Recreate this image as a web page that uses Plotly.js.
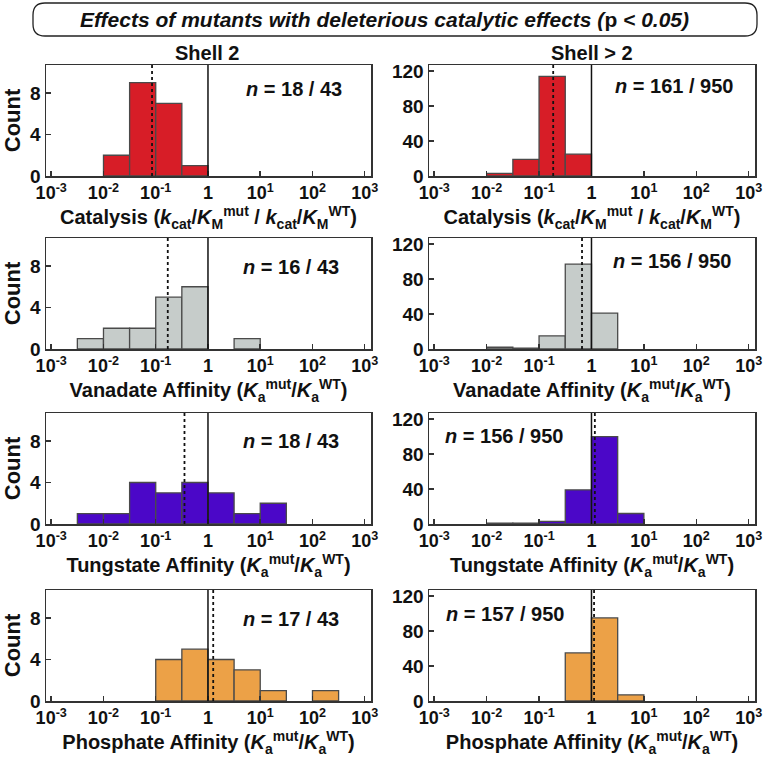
<!DOCTYPE html>
<html><head><meta charset="utf-8">
<script src="https://cdn.plot.ly/plotly-3.0.1.min.js"></script>
<style>html,body{margin:0;padding:0;background:#fff}#chart{width:767px;height:767px}</style>
</head><body><div id="chart"></div>
<script>
// ---- data ----
const binEdgesLog = [-3, -2.5, -2, -1.5, -1, -0.5, 0, 0.5, 1, 1.5, 2, 2.5, 3];
const xTickVals = [-3, -2, -1, 0, 1, 2, 3];
const xTickText = ['10<sup>-3</sup>', '10<sup>-2</sup>', '10<sup>-1</sup>', '1', '10<sup>1</sup>', '10<sup>2</sup>', '10<sup>3</sup>'];
const yTicksShell2 = [0, 4, 8];
const yTicksShellGt2 = [0, 40, 80, 120];

const catalysisShell2   = [0, 0, 2, 9, 7, 1, 0, 0, 0, 0, 0, 0];
const catalysisShellGt2 = [0, 0, 3, 19, 114, 25, 0, 0, 0, 0, 0, 0];
const vanadateShell2    = [0, 1, 2, 2, 5, 6, 0, 1, 0, 0, 0, 0];
const vanadateShellGt2  = [0, 0, 2, 1, 15, 97, 41, 0, 0, 0, 0, 0];
const tungstateShell2   = [0, 1, 1, 4, 3, 4, 3, 1, 2, 0, 0, 0];
const tungstateShellGt2 = [0, 0, 1, 1, 3, 39, 100, 12, 0, 0, 0, 0];
const phosphateShell2   = [0, 0, 0, 0, 4, 5, 4, 3, 1, 0, 1, 0];
const phosphateShellGt2 = [0, 0, 0, 0, 0, 55, 95, 7, 0, 0, 0, 0];

const medianRatios = [0.085, 0.186, 0.17, 0.66, 0.355, 1.16, 1.26, 1.12];
const nLabels = ['18 / 43', '161 / 950', '16 / 43', '156 / 950', '18 / 43', '156 / 950', '17 / 43', '157 / 950'];
const columnTitles = ['Shell 2', 'Shell > 2'];
const xTitles = [
  'Catalysis (<i>k</i><sub>cat</sub>/<i>K</i><sub>M</sub><sup>mut</sup> / <i>k</i><sub>cat</sub>/<i>K</i><sub>M</sub><sup>WT</sup>)',
  'Vanadate Affinity (<i>K</i><sub>a</sub><sup>mut</sup>/<i>K</i><sub>a</sub><sup>WT</sup>)',
  'Tungstate Affinity (<i>K</i><sub>a</sub><sup>mut</sup>/<i>K</i><sub>a</sub><sup>WT</sup>)',
  'Phosphate Affinity (<i>K</i><sub>a</sub><sup>mut</sup>/<i>K</i><sub>a</sub><sup>WT</sup>)'
];
const chartTitle = '<b><i>Effects of mutants with deleterious catalytic effects (</i>p<i> &lt; 0.05)</i></b>';

// ---- styles / layout ----
const series = [catalysisShell2, catalysisShellGt2, vanadateShell2, vanadateShellGt2,
                tungstateShell2, tungstateShellGt2, phosphateShell2, phosphateShellGt2];
const rowColors = ['#d71d27', '#c6ccca', '#4b07c8', '#eca147'];
const W = 767, H = 767;
const colPx = [[46, 371], [429, 755]];
const rowPx = [[65, 176], [238, 349], [413, 524], [590, 701]];
const nPos = [[294, 89], [674, 86], [291, 267], [672, 261], [291, 441], [504, 436], [291, 619], [505, 614]];
const FONT = 'Liberation Sans, Arial, sans-serif';

const traces = [];
const layout = {
  width: W, height: H, margin: {l: 0, r: 0, t: 0, b: 0},
  paper_bgcolor: '#fff', plot_bgcolor: '#fff', showlegend: false,
  font: {family: FONT, color: '#111'},
  shapes: [], annotations: []
};

const centers = binEdgesLog.slice(0, -1).map((e, i) => (e + binEdgesLog[i + 1]) / 2);

series.forEach((counts, k) => {
  const row = Math.floor(k / 2), col = k % 2;
  const sfx = k === 0 ? '' : String(k + 1);
  const xs = [], ys = [];
  counts.forEach((c, i) => { if (c > 0) { xs.push(centers[i]); ys.push(c); } });
  traces.push({
    type: 'bar', x: xs, y: ys, width: 0.5, xaxis: 'x' + sfx, yaxis: 'y' + sfx,
    marker: {color: rowColors[row], line: {color: '#4a4a4a', width: 1.3}},
    hoverinfo: 'skip'
  });
  const ax = {
    domain: [colPx[col][0] / W, colPx[col][1] / W],
    anchor: 'y' + sfx, range: [-3.1, 3.12], tickmode: 'array',
    tickvals: xTickVals, ticktext: xTickText, ticks: 'inside', ticklen: 5, tickwidth: 1.5,
    tickcolor: '#333', showline: true, mirror: true, linecolor: '#333', linewidth: 1.5,
    showgrid: false, zeroline: false, fixedrange: true,
    tickfont: {family: FONT, size: 18, color: '#111', weight: 'bold'},
    title: {text: '<b>' + xTitles[row] + '</b>', font: {family: FONT, size: 20, color: '#111'}, standoff: 0}
  };
  const ay = {
    domain: [1 - rowPx[row][1] / H, 1 - rowPx[row][0] / H],
    anchor: 'x' + sfx, range: col === 0 ? [0, 10.7] : [0, 127],
    tickmode: 'array', tickvals: col === 0 ? yTicksShell2 : yTicksShellGt2,
    ticks: 'inside', ticklen: 5, tickwidth: 1.5, tickcolor: '#333',
    showline: true, mirror: true, linecolor: '#333', linewidth: 1.5,
    showgrid: false, zeroline: false, fixedrange: true,
    tickfont: {family: FONT, size: 19, color: '#111', weight: 'bold'}
  };
  if (col === 0) ay.title = {text: '<b>Count</b>', font: {family: FONT, size: 22, color: '#111'}, standoff: 3};
  layout['xaxis' + sfx] = ax;
  layout['yaxis' + sfx] = ay;

  layout.shapes.push({type: 'line', xref: 'x' + sfx, yref: 'y' + sfx + ' domain',
    x0: Math.log10(1), x1: Math.log10(1), y0: 0, y1: 1, line: {color: '#111', width: 1.5}});
  const m = Math.log10(medianRatios[k]);
  layout.shapes.push({type: 'line', xref: 'x' + sfx, yref: 'y' + sfx + ' domain',
    x0: m, x1: m, y0: 0, y1: 1, line: {color: '#111', width: 1.8, dash: 'dot'}});
  layout.annotations.push({xref: 'paper', yref: 'paper', x: nPos[k][0] / W, y: 1 - nPos[k][1] / H,
    text: '<b><i>n</i> = ' + nLabels[k] + '</b>', showarrow: false, xanchor: 'center', yanchor: 'middle',
    font: {family: FONT, size: 20, color: '#111'}});
});

// column titles
[[207, 53], [592, 53]].forEach((p, i) => layout.annotations.push({
  xref: 'paper', yref: 'paper', x: p[0] / W, y: 1 - p[1] / H, text: '<b>' + columnTitles[i] + '</b>',
  showarrow: false, xanchor: 'center', yanchor: 'middle', font: {family: FONT, size: 20, color: '#111'}
}));

// title with rounded box
layout.annotations.push({xref: 'paper', yref: 'paper', x: 384 / W, y: 1 - 19 / H, text: chartTitle,
  showarrow: false, xanchor: 'center', yanchor: 'middle', font: {family: FONT, size: 21, color: '#111'}});
(function () {
  const x0 = 33 / W, x1 = 757 / W, yt = 1 - 3 / H, yb = 1 - 36 / H, rx = 12 / W, ry = 12 / H;
  const f = v => v.toFixed(5);
  const d = 'M ' + f(x0 + rx) + ',' + f(yt) + ' L ' + f(x1 - rx) + ',' + f(yt) +
    ' Q ' + f(x1) + ',' + f(yt) + ' ' + f(x1) + ',' + f(yt - ry) +
    ' L ' + f(x1) + ',' + f(yb + ry) + ' Q ' + f(x1) + ',' + f(yb) + ' ' + f(x1 - rx) + ',' + f(yb) +
    ' L ' + f(x0 + rx) + ',' + f(yb) + ' Q ' + f(x0) + ',' + f(yb) + ' ' + f(x0) + ',' + f(yb + ry) +
    ' L ' + f(x0) + ',' + f(yt - ry) + ' Q ' + f(x0) + ',' + f(yt) + ' ' + f(x0 + rx) + ',' + f(yt) + ' Z';
  layout.shapes.push({type: 'path', xref: 'paper', yref: 'paper', path: d, line: {color: '#222', width: 1.3}});
})();

Plotly.newPlot('chart', traces, layout, {staticPlot: true, displayModeBar: false});
</script></body></html>
